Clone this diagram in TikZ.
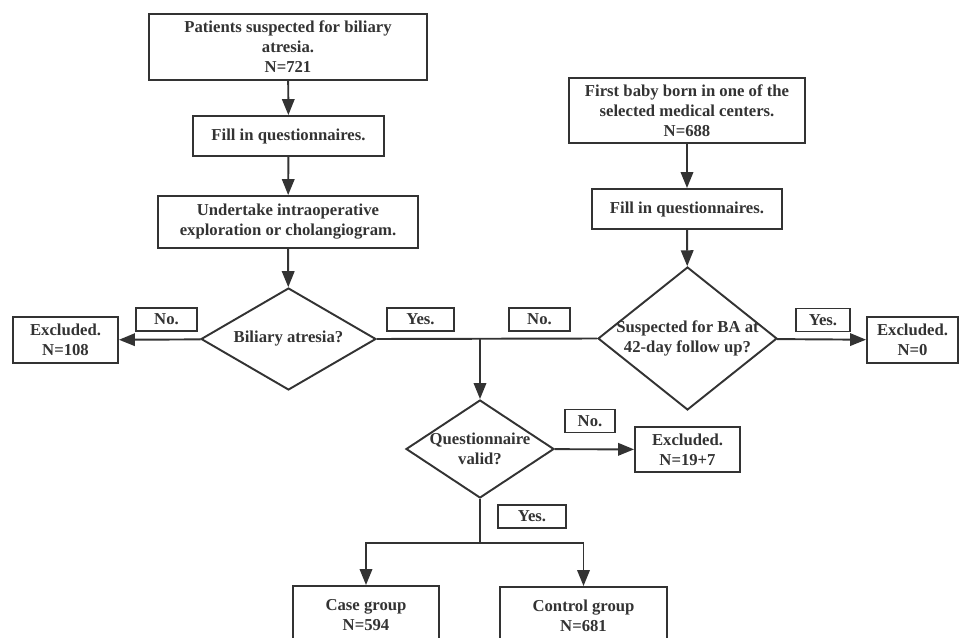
\documentclass[tikz,border=0pt]{standalone}
\usepackage{fontspec}
\setmainfont{Liberation Serif}
\usetikzlibrary{shapes.geometric, arrows.meta, positioning}
\definecolor{ink}{HTML}{333333}

\begin{document}
\begin{tikzpicture}[x=0.02cm, y=-0.02cm]
    \tikzset{
    stepbox/.style=
    {
        rectangle,
        draw=ink,
        line width=1.1pt,
        align=center,
        inner sep=1pt,
        text=ink,
        font=\fontsize{9.5}{11.4}\selectfont\bfseries
    },
    tag/.style=
    {
        stepbox,
        minimum height=0.46cm
    },
    decision/.style=
    {
        diamond,
        draw=ink,
        line width=1.1pt,
        inner sep=0pt,
        label={[align=center, text=ink, font=\fontsize{9.5}{11.4}\selectfont\bfseries]center:#1}
    },
    road/.style=
    {
        draw=ink,
        line width=1.1pt,
        -{Triangle[length=0.32cm, width=0.25cm]}
    },
    plain/.style=
    {
        draw=ink,
        line width=1.1pt
    }
}
  \useasboundingbox (0,0) rectangle (960,638);
  \clip (0,0) rectangle (960,638);

  % case arm
  \node[stepbox, minimum width=5.56cm, minimum height=1.32cm] (patients) at (288,47)
       {Patients suspected for biliary\\atresia.\\N=721};
  \node[stepbox, minimum width=3.82cm, minimum height=0.8cm] (fillA) at (288.5,136)
       {Fill in questionnaires.};
  \node[stepbox, minimum width=5.2cm, minimum height=1.04cm] (explore) at (288,222)
       {Undertake intraoperative\\exploration or cholangiogram.};
  \node[decision={Biliary atresia?}, minimum width=3.5cm, minimum height=2.04cm] (atresia) at (288.5,339) {};
  \node[stepbox, minimum width=2.1cm, minimum height=0.92cm] (exA) at (65.5,340)
       {Excluded.\\N=108};

  % control arm
  \node[stepbox, minimum width=4.72cm, minimum height=1.3cm] (baby) at (687,110.5)
       {First baby born in one of the\\selected medical centers.\\N=688};
  \node[stepbox, minimum width=3.8cm, minimum height=0.8cm] (fillB) at (687,209)
       {Fill in questionnaires.};
  \node[decision={Suspected for BA at\\42-day follow up?}, minimum width=3.58cm, minimum height=2.86cm] (followup) at (687.5,338.5) {};
  \node[stepbox, minimum width=1.82cm, minimum height=0.92cm] (exB) at (912.5,340)
       {Excluded.\\N=0};

  % common part
  \coordinate (join) at (480,339);
  \node[decision={Questionnaire\\valid?}, minimum width=2.96cm, minimum height=1.96cm] (valid) at (480,449) {};
  \node[stepbox, minimum width=2.1cm, minimum height=0.9cm] (exC) at (687.5,449.5)
       {Excluded.\\N=19+7};
  \coordinate (split) at (480,543);
  \node[stepbox, minimum width=2.92cm, minimum height=1.16cm] (cases) at (366,615)
       {Case group\\N=594};
  \node[stepbox, minimum width=3.34cm, minimum height=1.16cm] (controls) at (583.5,616)
       {Control group\\N=681};

  % answer tags
  \node[tag, minimum width=1.22cm] (noA) at (166.5,319.5) {No.};
  \node[tag, minimum width=1.34cm] (yesA) at (420.5,319.5) {Yes.};
  \node[tag, minimum width=1.22cm] (noB) at (539.5,319.5) {No.};
  \node[tag, minimum width=1.08cm] (yesB) at (823,320) {Yes.};
  \node[tag, minimum width=1.0cm] (noC) at (590,421) {No.};
  \node[tag, minimum width=1.36cm] (yesC) at (532,516.5) {Yes.};

  \draw[road] (patients) -- (fillA);
  \draw[road] (fillA) -- (explore);
  \draw[road] (explore) -- (atresia);
  \draw[road] (atresia) -- (exA);

  \draw[road] (baby) -- (fillB);
  \draw[road] (fillB) -- (followup);
  \draw[road] (followup) -- (exB);

  \draw[plain] (atresia.east) -- (followup.west);
  \draw[road] (join) -- (valid.north);
  \draw[road] (valid) -- (exC);
  \draw[plain] (valid.south) -- (split);
  \draw[road] (split) -| (cases.north);
  \draw[road] (split) -| (controls.north);

\end{tikzpicture}
\end{document}
